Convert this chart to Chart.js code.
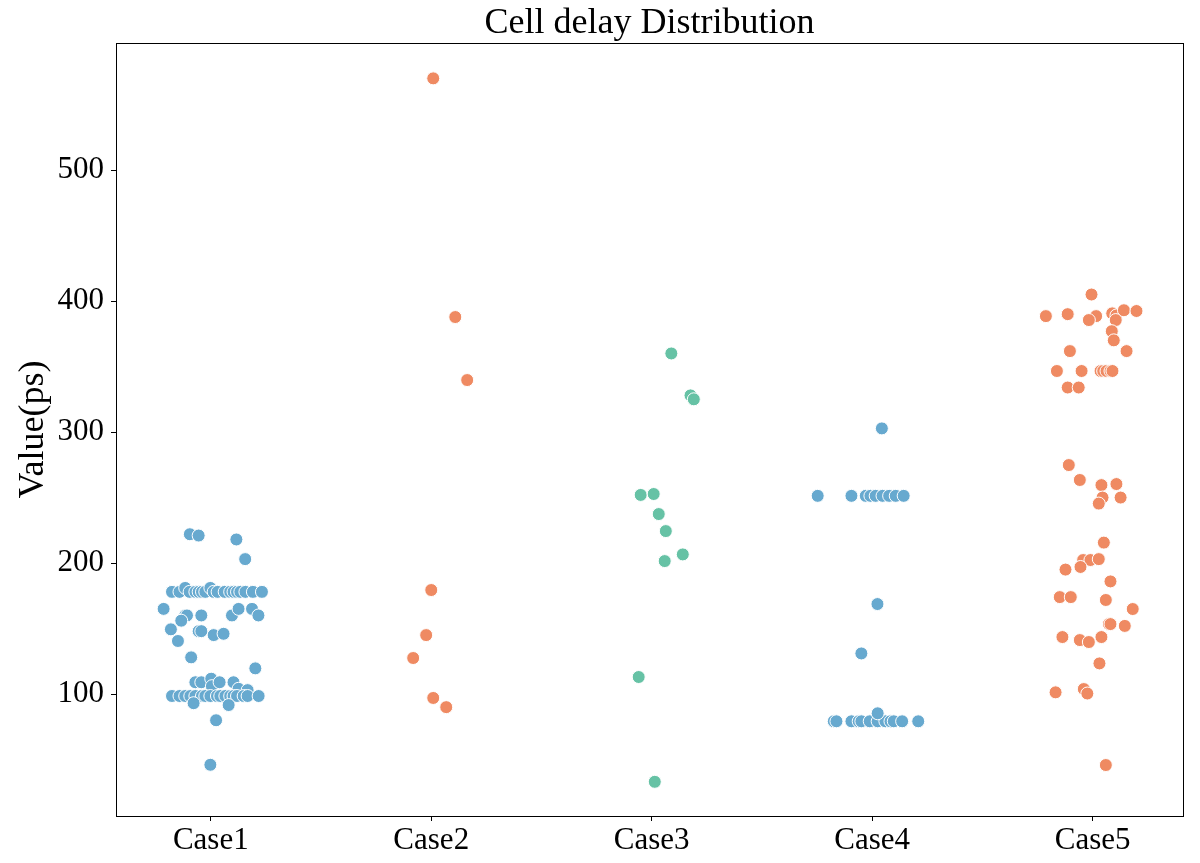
<!DOCTYPE html>
<html>
<head>
<meta charset="utf-8">
<script src="https://cdn.jsdelivr.net/npm/chart.js@4.4.1/dist/chart.umd.min.js"></script>
<style>
  body { margin: 0; background: #fff; }
</style>
</head>
<body>
<canvas id="chart" width="1200" height="863"></canvas>
<script>
const categories = ['Case1', 'Case2', 'Case3', 'Case4', 'Case5'];
const yTicks = [100, 200, 300, 400, 500];

// values in ps, plus the horizontal strip jitter (in category widths)
const case1Values = [222, 221, 218, 203,
  178, 178, 181, 178, 178, 178, 178, 178, 181, 178, 178, 178, 178, 178, 178, 178, 178, 178, 178,
  165, 160, 160, 160, 160, 165, 165, 160, 156, 149.4, 148, 148, 145, 146, 140.5, 128, 119.6,
  109, 109, 111.7, 106, 109, 109, 104, 103,
  98.5, 98.5, 98.5, 98.5, 98.5, 98.5, 98.5, 98.5, 98.5, 98.5, 98.5, 98.5, 98.5, 98.5, 98.5, 98.5, 98.5,
  93, 91.6, 80, 46];
const case1Jitter = [-0.095, -0.055, 0.116, 0.156,
  -0.176, -0.142, -0.116, -0.096, -0.070, -0.055, -0.040, -0.025, -0.002, 0.013, 0.031, 0.063, 0.088, 0.103, 0.119, 0.134, 0.157, 0.191, 0.232,
  -0.214, -0.116, -0.108, -0.043, 0.096, 0.126, 0.187, 0.216, -0.134, -0.181, -0.055, -0.043, 0.013, 0.058, -0.149, -0.089, 0.202,
  -0.070, -0.043, 0.002, 0.005, 0.040, 0.103, 0.126, 0.167,
  -0.176, -0.142, -0.116, -0.093, -0.070, -0.040, -0.025, -0.002, 0.028, 0.043, 0.066, 0.088, 0.103, 0.119, 0.149, 0.167, 0.217,
  -0.078, 0.081, 0.024, -0.002];

const case2Values = [570, 387.8, 339.7, 179.4, 145, 127.5, 97, 90];
const case2Jitter = [0.009, 0.109, 0.163, 0.0, -0.023, -0.082, 0.009, 0.068];

const case3Values = [360, 328, 325, 252, 252.7, 237.4, 224.4, 206.6, 201.5, 113, 33];
const case3Jitter = [0.089, 0.176, 0.191, -0.050, 0.009, 0.032, 0.064, 0.141, 0.059, -0.059, 0.014];

const case4Values = [302.8,
  251.3, 251.3, 251.3, 251.3, 251.3, 251.3, 251.3, 251.3, 251.3,
  168.7, 131,
  79.2, 79.2, 79.2, 79.2, 79.2, 79.2, 79.2, 79.2, 79.2, 79.2, 79.2, 79.2, 85.3];
const case4Jitter = [0.044,
  -0.247, -0.094, -0.029, -0.008, 0.016, 0.047, 0.077, 0.107, 0.143,
  0.024, -0.049,
  -0.174, -0.162, -0.094, -0.061, -0.049, -0.011, 0.025, 0.060, 0.083, 0.098, 0.136, 0.209, 0.025];

const case5Values = [405, 388.5, 390, 388.5, 385.5, 390.6, 389, 393, 392.4, 385.5, 377, 370, 361.8, 361.8,
  346.6, 346.6, 346.6, 346.6, 346.6, 346.6, 346.6, 334, 334,
  274.8, 263.4, 259.5, 260.3, 250, 250, 245.4, 215.6, 202.3, 202.3, 203, 197, 195, 186,
  174, 174, 171.8, 164.9, 153.4, 153.4, 152, 143.5, 141.2, 139.7, 143.5, 123.4,
  101.3, 103.8, 100.4, 45.8];
const case5Jitter = [-0.005, -0.212, -0.113, 0.016, -0.017, 0.089, 0.108, 0.142, 0.199, 0.105, 0.087, 0.096, -0.103, 0.154,
  -0.162, -0.050, 0.036, 0.048, 0.063, 0.081, 0.090, -0.113, -0.063,
  -0.108, -0.058, 0.040, 0.108, 0.045, 0.127, 0.028, 0.051, -0.043, -0.010, 0.028, -0.055, -0.123, 0.081,
  -0.149, -0.099, 0.060, 0.182, 0.074, 0.081, 0.146, -0.137, -0.058, -0.017, 0.040, 0.031,
  -0.168, -0.040, -0.024, 0.060];

const blue = '#67a9cf';
const orange = '#ef8a62';
const green = '#66c2a5';

const fontFamily = '"Liberation Serif", "Times New Roman", serif';

function strip(values, jitter, idx) {
  return values.map((v, i) => ({ x: idx + jitter[i], y: v }));
}

const seriesList = [
  { values: case1Values, jitter: case1Jitter, color: blue },
  { values: case2Values, jitter: case2Jitter, color: orange },
  { values: case3Values, jitter: case3Jitter, color: green },
  { values: case4Values, jitter: case4Jitter, color: blue },
  { values: case5Values, jitter: case5Jitter, color: orange }
];

// frame on all four sides + title centred over the plot area
const framePlugin = {
  id: 'frame',
  beforeDatasetsDraw(chart) {
    const { ctx, chartArea } = chart;
    ctx.save();
    ctx.strokeStyle = '#000';
    ctx.lineWidth = 1;
    ctx.strokeRect(chartArea.left + 0.5, chartArea.top + 0.5,
      chartArea.right - chartArea.left, chartArea.bottom - chartArea.top);
    ctx.restore();
  },
  afterDraw(chart) {
    const { ctx, chartArea } = chart;
    ctx.save();
    ctx.fillStyle = '#000';
    ctx.font = '36px ' + fontFamily;
    ctx.textAlign = 'center';
    ctx.textBaseline = 'middle';
    ctx.fillText('Cell delay Distribution', (chartArea.left + chartArea.right) / 2, 24);
    ctx.restore();
  }
};

new Chart(document.getElementById('chart').getContext('2d'), {
  type: 'scatter',
  data: {
    datasets: seriesList.map((s, idx) => ({
      label: categories[idx],
      data: strip(s.values, s.jitter, idx),
      backgroundColor: s.color,
      borderColor: '#ffffff',
      borderWidth: 1,
      pointRadius: 6.5,
      pointHoverRadius: 6.5
    }))
  },
  options: {
    responsive: false,
    animation: false,
    layout: { padding: { top: 43, right: 17, left: 0, bottom: 0 } },
    plugins: {
      legend: { display: false },
      tooltip: { enabled: false }
    },
    scales: {
      x: {
        type: 'linear',
        min: -0.43,
        max: 4.41,
        afterBuildTicks: scale => { scale.ticks = categories.map((c, i) => ({ value: i })); },
        afterFit: scale => { scale.height = 47; },
        ticks: {
          callback: v => categories[v],
          color: '#000',
          font: { family: fontFamily, size: 31 },
          padding: 1,
          maxRotation: 0
        },
        grid: { drawOnChartArea: false, drawTicks: true, tickLength: 5, color: '#000' },
        border: { display: false }
      },
      y: {
        type: 'linear',
        min: 6.9,
        max: 597,
        afterBuildTicks: scale => { scale.ticks = yTicks.map(v => ({ value: v })); },
        afterFit: scale => { scale.width = 116; },
        ticks: {
          color: '#000',
          font: { family: fontFamily, size: 31 },
          padding: 7
        },
        grid: { drawOnChartArea: false, drawTicks: true, tickLength: 5, color: '#000' },
        border: { display: false },
        title: {
          display: true,
          text: 'Value(ps)',
          color: '#000',
          font: { family: fontFamily, size: 36 },
          padding: { top: 12, bottom: 0 }
        }
      }
    }
  },
  plugins: [framePlugin]
});
</script>
</body>
</html>
